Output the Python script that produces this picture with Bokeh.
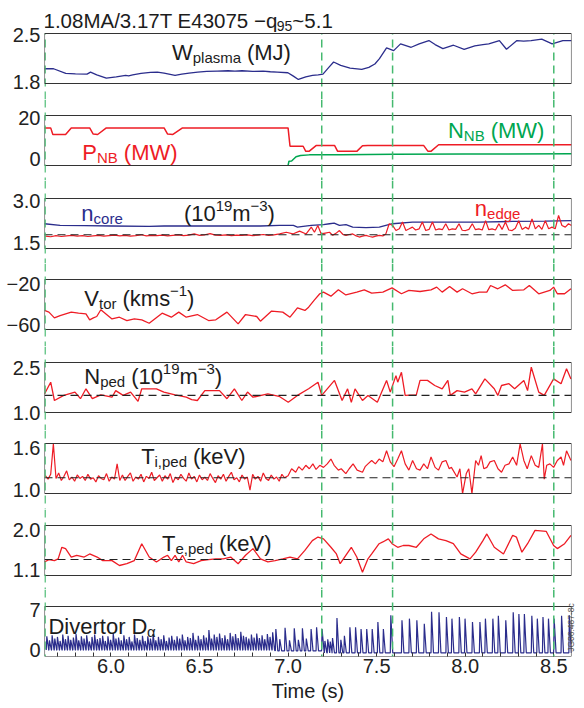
import numpy as np
from bokeh.plotting import figure
from bokeh.models import (Range1d, BoxAnnotation, Span, Label, FixedTicker, LinearAxis,
                          CustomJSTickFormatter)
from bokeh.layouts import column
from bokeh.embed import file_html
from bokeh.resources import INLINE

# ------------------------------------------------------------------ data
W_PLASMA = [(5.626,1.99),(5.676,1.99),(5.745,1.92),(5.80,1.915),(5.865,1.91),(5.885,1.94),
            (5.92,1.90),(5.974,1.85),(6.03,1.87),(6.083,1.89),(6.10,1.885),(6.123,1.90),
            (6.17,1.92),(6.223,1.935),(6.262,1.94),(6.30,1.925),(6.362,1.89),(6.40,1.91),
            (6.441,1.925),(6.49,1.94),(6.541,1.95),(6.60,1.955),(6.661,1.96),(6.70,1.955),
            (6.740,1.96),(6.80,1.95),(6.859,1.955),(6.90,1.945),(6.939,1.94),(6.999,1.93),
            (7.03,1.88),(7.058,1.83),(7.10,1.87),(7.138,1.89),(7.17,1.90),(7.197,1.91),
            (7.23,2.01),(7.257,2.09),(7.297,2.04),(7.35,2.00),(7.416,1.98),(7.456,2.01),
            (7.49,2.06),(7.516,2.14),(7.556,2.30),(7.596,2.26),(7.635,2.36),(7.695,2.31),
            (7.74,2.36),(7.795,2.41),(7.83,2.35),(7.874,2.29),(7.934,2.34),(7.994,2.28),
            (8.054,2.33),(8.10,2.35),(8.133,2.36),(8.193,2.41),(8.233,2.28),(8.292,2.41),
            (8.33,2.40),(8.372,2.41),(8.432,2.43),(8.491,2.36),(8.551,2.41),(8.60,2.41)]

P_NB = [(5.625,15.2),(5.660,15.2),(5.672,12.0),(5.744,12.0),(5.776,15.2),(5.880,15.2),
        (5.900,12.2),(5.925,12.0),(5.974,15.2),(6.300,15.2),(6.320,12.2),(6.350,12.0),
        (6.404,15.2),(7.000,15.2),(7.011,6.3),(7.085,6.3),(7.100,3.8),(7.120,3.9),
        (7.158,6.6),(7.263,6.6),(7.280,3.8),(7.388,3.8),(7.420,6.5),(7.450,6.7),
        (7.765,6.7),(7.790,3.8),(7.808,3.9),(7.850,7.0),(8.600,7.0)]

N_NB = [(7.000,-3.0),(7.005,-1.0),(7.020,-0.9),(7.045,1.2),(7.070,1.8),(7.120,2.1),
        (7.300,2.2),(7.600,2.4),(8.000,2.5),(8.600,2.6)]

N_CORE = [(5.625,2.18),(5.713,2.12),(5.85,2.11),(6.006,2.10),(6.216,2.09),(6.30,2.10),
          (6.425,2.10),(6.634,2.10),(6.844,2.10),(6.952,2.12),(7.03,2.12),(7.053,2.06),
          (7.085,2.09),(7.131,2.12),(7.20,2.15),(7.234,2.18),(7.26,2.20),(7.290,2.12),
          (7.327,2.15),(7.365,2.06),(7.44,2.04),(7.515,2.06),(7.552,2.12),(7.590,2.18),
          (7.702,2.24),(7.890,2.24),(8.077,2.24),(8.265,2.26),(8.452,2.27),(8.600,2.29)]

N_EDGE = [(5.63,1.74),(5.66,1.72),(5.69,1.76),(5.72,1.73),(5.75,1.75),(5.78,1.77),(5.81,1.74),
          (5.84,1.76),(5.87,1.73),(5.90,1.75),(5.93,1.77),(5.96,1.74),(5.99,1.76),(6.02,1.78),
          (6.05,1.75),(6.08,1.77),(6.11,1.74),(6.14,1.76),(6.17,1.79),(6.20,1.75),(6.23,1.77),
          (6.26,1.76),(6.29,1.78),(6.32,1.75),(6.35,1.77),(6.38,1.79),(6.41,1.76),(6.44,1.78),
          (6.47,1.82),(6.50,1.77),(6.53,1.79),(6.56,1.83),(6.59,1.78),(6.62,1.77),(6.65,1.79),
          (6.68,1.76),(6.71,1.78),(6.74,1.77),(6.77,1.79),(6.80,1.76),(6.83,1.78),(6.86,1.80),
          (6.89,1.77),(6.92,1.79),
          (6.952,1.82),(6.990,1.88),(7.027,1.82),(7.065,1.92),(7.102,1.82),(7.131,2.06),
          (7.149,1.88),(7.168,2.12),(7.187,1.82),(7.210,1.85),(7.234,1.88),(7.252,1.77),
          (7.270,1.84),(7.290,1.94),(7.310,1.80),(7.327,1.77),(7.345,1.80),(7.365,1.82),
          (7.385,1.75),(7.402,1.71),(7.420,1.74),(7.440,1.77),(7.460,1.73),(7.477,1.71),
          (7.495,1.74),(7.515,1.77),(7.535,1.75),(7.552,1.82),(7.571,2.18),(7.590,2.12),
          (7.609,1.94),(7.628,2.00),(7.646,2.24),(7.665,1.94),(7.684,2.00),(7.702,2.06),
          (7.720,1.96),(7.740,2.00),(7.758,2.24),(7.777,1.94),(7.796,1.98),(7.815,2.24),
          (7.833,1.96),(7.852,2.00),(7.871,1.97),(7.890,2.18),(7.908,1.96),(7.927,2.00),
          (7.946,1.98),(7.965,2.18),(7.983,1.95),(8.002,1.94),(8.021,1.98),(8.040,2.18),
          (8.058,1.97),(8.077,2.00),(8.096,1.96),(8.115,2.29),(8.133,1.97),(8.152,2.00),
          (8.171,1.96),(8.190,2.18),(8.208,1.98),(8.227,2.24),(8.246,1.96),(8.265,1.94),
          (8.283,2.02),(8.302,2.29),(8.321,1.98),(8.340,2.06),(8.358,1.99),(8.377,2.35),
          (8.396,2.00),(8.415,2.12),(8.433,1.98),(8.452,2.29),(8.471,2.00),(8.490,2.06),
          (8.508,2.00),(8.527,2.47),(8.546,2.12),(8.565,2.06),(8.583,2.18),(8.600,2.12)]

V_TOR = [(5.625,-46.0),(5.650,-47.6),(5.681,-53.1),(5.713,-50.9),(5.776,-47.6),(5.817,-48.6),
         (5.859,-49.2),(5.880,-55.0),(5.901,-53.1),(5.920,-51.8),(5.943,-45.3),(6.006,-54.1),
         (6.048,-52.5),(6.090,-55.7),(6.132,-54.1),(6.174,-55.0),(6.216,-58.3),(6.289,-48.6),
         (6.341,-52.5),(6.383,-47.6),(6.425,-52.5),(6.488,-49.9),(6.551,-55.7),(6.592,-55.0),
         (6.655,-47.6),(6.718,-58.9),(6.760,-49.9),(6.823,-51.8),(6.844,-56.3),(6.907,-46.6),
         (6.970,-47.6),(7.011,-52.5),(7.053,-43.4),(7.095,-46.0),(7.116,-42.8),(7.148,-36.0),
         (7.179,-29.9),(7.200,-28.3),(7.242,-32.2),(7.284,-26.1),(7.326,-31.0),(7.388,-28.3),
         (7.430,-26.1),(7.472,-29.3),(7.535,-28.3),(7.587,-24.2),(7.640,-29.9),(7.682,-26.7),
         (7.745,-27.7),(7.807,-26.1),(7.839,-23.5),(7.870,-28.3),(7.912,-22.9),(7.954,-28.3),
         (7.985,-25.1),(8.038,-29.9),(8.080,-28.3),(8.122,-28.3),(8.143,-21.9),(8.184,-25.1),
         (8.226,-21.3),(8.268,-26.7),(8.331,-26.1),(8.362,-21.9),(8.415,-29.9),(8.478,-26.7),
         (8.499,-23.5),(8.520,-29.9),(8.561,-29.9),(8.597,-25.1)]

N_PED = [(5.625,1.62),(5.660,2.01),(5.681,1.40),(5.734,1.57),(5.797,1.68),(5.828,1.46),
         (5.859,1.79),(5.895,1.46),(5.943,1.59),(6.006,1.51),(6.027,1.73),(6.069,1.57),
         (6.111,1.68),(6.153,1.37),(6.174,1.79),(6.257,1.79),(6.299,1.68),(6.362,1.59),
         (6.425,1.51),(6.456,1.43),(6.488,1.40),(6.530,1.73),(6.613,1.73),(6.655,1.46),
         (6.697,1.79),(6.739,1.40),(6.771,1.68),(6.802,1.51),(6.886,1.62),(6.949,1.54),
         (7.001,1.34),(7.053,1.57),(7.116,1.79),(7.169,2.01),(7.190,1.57),(7.262,2.07),
         (7.305,1.40),(7.336,1.79),(7.357,1.34),(7.378,1.79),(7.420,1.40),(7.451,1.57),
         (7.504,1.34),(7.556,2.07),(7.577,1.68),(7.609,2.23),(7.619,2.01),(7.640,2.34),
         (7.661,1.57),(7.724,1.59),(7.745,2.07),(7.787,2.07),(7.828,1.90),(7.870,1.79),
         (7.902,2.07),(7.916,1.57),(7.954,1.73),(7.996,1.68),(8.038,1.79),(8.059,1.62),
         (8.111,2.12),(8.164,1.79),(8.184,1.57),(8.205,1.90),(8.247,1.96),(8.279,1.79),
         (8.331,2.07),(8.352,1.73),(8.373,2.51),(8.415,1.68),(8.446,1.57),(8.499,2.12),
         (8.541,1.96),(8.572,2.46),(8.597,2.12)]

TI_PED = [(5.630,1.20),(5.645,1.15),(5.660,1.22),(5.675,1.66),(5.690,1.16),(5.705,1.24),
          (5.720,1.13),(5.735,1.19),(5.750,1.27),(5.765,1.14),(5.780,1.18),(5.795,1.12),
          (5.810,1.21),(5.825,1.16),(5.840,1.19),(5.855,1.13),(5.870,1.22),(5.885,1.15),
          (5.900,1.17),(5.915,1.11),(5.930,1.20),(5.945,1.16),(5.960,1.14),(5.975,1.23),
          (5.990,1.12),(6.005,1.18),(6.020,1.15),(6.035,1.37),(6.050,1.13),(6.065,1.21),
          (6.080,1.13),(6.095,1.19),(6.110,1.24),(6.125,1.12),(6.140,1.18),(6.155,1.15),
          (6.170,1.22),(6.185,1.11),(6.200,1.19),(6.215,1.16),(6.230,1.25),(6.245,1.13),
          (6.260,1.17),(6.275,1.21),(6.290,1.12),(6.305,1.20),(6.320,1.15),(6.335,1.23),
          (6.350,1.10),(6.365,1.18),(6.380,1.14),(6.395,1.22),(6.410,1.16),(6.425,1.12),
          (6.440,1.24),(6.455,1.15),(6.470,1.19),(6.485,1.11),(6.500,1.21),(6.515,1.14),
          (6.530,1.18),(6.545,1.13),(6.560,1.23),(6.575,1.16),(6.590,1.10),(6.605,1.20),
          (6.620,1.15),(6.635,1.22),(6.650,1.12),(6.665,1.19),(6.680,1.25),(6.695,1.14),
          (6.710,1.17),(6.725,1.11),(6.740,1.21),(6.755,1.15),(6.770,1.18),(6.785,0.99),
          (6.800,1.22),(6.815,1.15),(6.830,1.19),(6.845,1.12),(6.860,1.24),(6.875,1.16),
          (6.890,1.13),(6.905,1.21),(6.920,1.15),(6.935,1.18),(6.950,1.12),(6.965,1.22),
          (6.980,1.17),
          (7.000,1.20),(7.020,1.30),(7.043,1.25),(7.060,1.33),(7.080,1.28),(7.100,1.35),
          (7.120,1.30),(7.140,1.37),(7.158,1.29),(7.179,1.35),(7.200,1.32),(7.221,1.37),
          (7.242,1.44),(7.260,1.35),(7.284,1.28),(7.300,1.30),(7.326,1.23),(7.345,1.30),
          (7.367,1.37),(7.390,1.28),(7.420,1.25),(7.435,1.33),(7.451,1.37),(7.472,1.42),
          (7.493,1.37),(7.514,1.44),(7.535,1.40),(7.556,1.56),(7.577,1.40),(7.598,1.33),
          (7.619,1.44),(7.640,1.56),(7.661,1.37),(7.682,1.28),(7.703,1.42),(7.725,1.30),
          (7.745,1.28),(7.766,1.37),(7.787,1.30),(7.807,1.47),(7.830,1.32),(7.849,1.28),
          (7.870,1.40),(7.891,1.42),(7.910,1.30),(7.922,1.32),(7.954,1.18),(7.970,1.30),
          (7.985,0.94),(8.006,1.23),(8.020,1.30),(8.038,0.94),(8.059,1.42),(8.075,1.35),
          (8.090,1.49),(8.105,1.30),(8.122,1.32),(8.140,1.40),(8.164,1.42),(8.185,1.30),
          (8.205,1.25),(8.225,1.35),(8.247,1.37),(8.268,1.47),(8.290,1.35),(8.310,1.66),
          (8.331,1.42),(8.350,1.30),(8.373,1.49),(8.395,1.35),(8.415,1.32),(8.436,1.66),
          (8.446,1.15),(8.460,1.35),(8.478,1.37),(8.499,1.32),(8.520,1.42),(8.541,1.47),
          (8.555,1.35),(8.572,1.56),(8.597,1.42)]

TE_PED = [(5.625,1.27),(5.650,1.32),(5.681,1.30),(5.702,1.34),(5.723,1.60),(5.744,1.57),
          (5.776,1.38),(5.807,1.42),(5.849,1.38),(5.880,1.45),(5.922,1.38),(5.954,1.30),
          (6.006,1.30),(6.048,1.19),(6.090,1.23),(6.132,1.30),(6.174,1.68),(6.216,1.38),
          (6.257,1.27),(6.299,1.38),(6.320,1.42),(6.341,1.30),(6.362,1.42),(6.383,1.27),
          (6.404,1.42),(6.425,1.27),(6.467,1.23),(6.509,1.30),(6.551,1.32),(6.592,1.34),
          (6.634,1.34),(6.676,1.38),(6.718,1.23),(6.760,1.42),(6.802,1.57),(6.844,1.34),
          (6.886,1.27),(6.927,1.30),(6.970,1.34),(7.011,1.38),(7.053,1.34),(7.095,1.53),
          (7.137,1.75),(7.169,1.83),(7.200,1.79),(7.242,1.60),(7.273,1.45),(7.294,1.23),
          (7.326,1.42),(7.357,1.60),(7.388,1.38),(7.420,1.04),(7.451,1.34),(7.472,1.45),
          (7.514,1.68),(7.535,1.72),(7.566,1.79),(7.587,1.68),(7.619,1.60),(7.650,1.64),
          (7.682,1.64),(7.724,1.60),(7.766,1.79),(7.807,1.90),(7.849,1.79),(7.891,1.75),
          (7.933,1.68),(7.975,1.45),(8.027,1.34),(8.059,1.49),(8.100,1.75),(8.122,1.90),
          (8.164,1.60),(8.216,1.45),(8.268,1.87),(8.289,1.83),(8.320,1.49),(8.352,1.68),
          (8.394,1.98),(8.457,1.96),(8.499,1.64),(8.520,1.57),(8.561,1.68),(8.597,1.87)]

# Divertor D-alpha: ELM spikes (time, peak) in three phases, each with its baseline
DA_DENSE = [(5.635,2.3),(5.650,1.6),(5.665,2.5),(5.680,1.9),(5.695,2.2),(5.710,1.5),(5.725,2.6),
            (5.740,1.8),(5.755,2.4),(5.770,1.7),(5.785,2.1),(5.800,2.7),(5.815,1.6),(5.830,2.3),
            (5.845,1.9),(5.860,2.5),(5.875,1.4),(5.890,2.2),(5.905,2.6),(5.920,1.8),(5.935,2.0),
            (5.950,2.4),(5.965,1.5),(5.980,2.3),(5.995,1.7),(6.010,2.8),(6.025,1.9),(6.040,2.1),
            (6.055,1.6),(6.070,2.5),(6.085,1.8),(6.100,2.2),(6.115,1.4),(6.130,2.6),(6.145,2.0),
            (6.160,1.7),(6.175,2.4),(6.190,1.5),(6.205,2.3),(6.220,1.9),(6.235,2.7),(6.250,1.6),
            (6.265,2.2),(6.280,1.8),(6.295,2.5),(6.310,1.5),(6.325,2.1),(6.340,2.4),(6.355,1.7),
            (6.370,2.3),(6.385,1.9),(6.400,2.6),(6.415,1.6),(6.430,2.2),(6.445,2.0),(6.460,2.9),
            (6.475,1.7),(6.490,2.4),(6.505,1.8),(6.520,2.5),(6.535,2.1),(6.550,3.4),(6.565,1.9),
            (6.580,2.6),(6.595,2.2),(6.610,2.8),(6.625,2.0),(6.640,2.5),(6.655,1.8),(6.670,2.9),
            (6.685,2.3),(6.700,2.7),(6.715,2.0),(6.730,3.1),(6.745,2.4),(6.760,2.2),(6.775,1.9),
            (6.790,2.6),(6.805,2.1),(6.820,2.8),(6.835,2.0),(6.850,2.5),(6.865,1.8),(6.880,2.7),
            (6.895,2.2),(6.910,3.0)]
DA_DENSE_BASE = -0.1
DA_MID = [(6.928,3.6),(6.950,1.8),(6.980,3.8),(7.005,1.6),(7.032,3.7),(7.055,1.7),(7.078,3.7),
          (7.100,1.9),(7.127,3.6),(7.158,3.9),(7.189,3.6)]
DA_MID_BASE = -0.25
DA_LATE = [(7.205,1.5),(7.221,1.8),(7.235,1.4),(7.248,2.0),(7.273,5.5),(7.295,1.7),(7.315,2.4),
           (7.346,3.9),(7.378,3.9),(7.409,3.6),(7.441,3.6),(7.472,3.6),(7.504,4.8),(7.535,3.6),
           (7.577,6.0),(7.640,5.1),(7.682,5.4),(7.724,5.1),(7.766,4.5),(7.807,6.6),(7.849,6.5),
           (7.891,5.7),(7.922,5.4),(7.964,5.7),(7.996,5.4),(8.038,4.8),(8.080,4.8),(8.111,5.4),
           (8.153,5.4),(8.184,5.9),(8.226,5.1),(8.268,6.5),(8.300,6.2),(8.331,6.2),(8.373,5.9),
           (8.404,5.4),(8.436,5.7),(8.467,5.4),(8.499,5.4),(8.541,5.9),(8.585,6.0)]
DA_LATE_BASE = -0.6

EVENT_TIMES = [5.628, 7.19, 7.59, 8.50]            # green dashed markers
REF_LEVELS = {2: 1.79, 4: 1.57, 5: 1.17, 6: 1.325}  # black dashed reference levels
X_TICKS = [6.0, 6.5, 7.0, 7.5, 8.0, 8.5]
X_MINOR = [5.7, 5.8, 5.9, 6.1, 6.2, 6.3, 6.4, 6.6, 6.7, 6.8, 6.9, 7.1, 7.2, 7.3, 7.4,
           7.6, 7.7, 7.8, 7.9, 8.1, 8.2, 8.3, 8.4]
Y_TICKS = [(1.8, 2.5), (0, 20), (1.5, 3.0), (-60, -20), (1.0, 2.5), (1.0, 1.6), (1.1, 2.0), (0, 7)]
Y_DECIMALS = [1, 0, 1, 0, 1, 1, 1, 0]

# ------------------------------------------------------------------ layout (page px)
X0, X1 = 5.625, 8.600
PX_L, PX_R = 44.0, 573.0
# (y px of bottom tick, y px of top tick, box top, box bottom)
GEOM = [(81.0, 34.0, 33, 83), (158.7, 117.5, 115, 165), (242.5, 200.0, 198, 248),
        (324.5, 283.0, 279, 329), (412.0, 367.0, 362, 412), (489.0, 447.5, 443, 493),
        (569.0, 529.0, 525, 575), (649.0, 609.0, 606, 656)]
# figure frames (top, bottom) - split in the middle of the gaps between boxes
FRAMES = [(0, 99), (99, 180), (180, 263), (263, 346), (346, 430), (430, 509), (509, 589), (589, 656)]
BOTTOM_BORDER = 52
TEXT_DY = -5   # rendering offset of label baselines

FONT = "Liberation Sans"
NAVY, RED, GREEN, VGREEN, INK = "#2b2d8c", "#ee1c25", "#00a650", "#45b96f", "#1c1c1c"

CW = {' ': 278, '(': 333, ')': 333, '-': 333, '\u2212': 584, '.': 278, '/': 278, ',': 278,
      '~': 584, 'A': 667, 'B': 667, 'D': 722, 'E': 667, 'J': 500, 'M': 833, 'N': 722,
      'P': 667, 'T': 611, 'V': 667, 'W': 944, 'a': 556, 'c': 500, 'd': 556, 'e': 556,
      'g': 556, 'i': 222, 'k': 500, 'l': 222, 'm': 833, 'n': 556, 'o': 556, 'p': 556,
      'q': 556, 'r': 333, 's': 500, 't': 278, 'v': 500, '\u03b1': 570}
for d in "0123456789":
    CW[d] = 556


def xd(px):
    return X0 + (px - PX_L) * (X1 - X0) / (PX_R - PX_L)


def yd(k, py):
    vb, vt = Y_TICKS[k]
    yb, yt = GEOM[k][0], GEOM[k][1]
    return vb + (yb - py) * (vt - vb) / (yb - yt)


def tw(s, size):
    return sum(CW.get(c, 556) for c in s) * size / 1000.0


def rich(fig, k, px, py, parts, color, size=22, small=15):
    x = px
    py = py + TEXT_DY
    for txt, kind in parts:
        fs, dy = (size, 0) if kind == "n" else ((small, 5) if kind == "sub" else (small, -8))
        lead = len(txt) - len(txt.lstrip(" "))
        x += tw(" " * lead, fs)
        body = txt.strip(" ")
        fig.add_layout(Label(x=xd(x), y=yd(k, py + dy), text=body, text_font=FONT,
                             text_font_size=f"{fs}px", text_color=color,
                             text_baseline="alphabetic", text_align="left"))
        x += tw(body, fs)


def elm(spikes, base, rise=0.003, decay=0.011):
    xs, ys = [], []
    for t, pk in spikes:
        xs += [t, t + rise, t + rise + decay]
        ys += [base, pk, base]
    return xs, ys


def fixed_fmt(dec, unicode_minus=False):
    if unicode_minus:
        return CustomJSTickFormatter(
            code=f"return (tick < 0 ? '\\u2212' : '') + Math.abs(tick).toFixed({dec});")
    return CustomJSTickFormatter(code=f"return tick.toFixed({dec});")


xr = Range1d(X0, X1)
figs = []
for k in range(8):
    ftop, fbot = FRAMES[k]
    bot_border = BOTTOM_BORDER if k == 7 else 0
    h = (fbot - ftop) + bot_border
    f = figure(width=584, height=h, x_range=xr, y_range=Range1d(yd(k, fbot), yd(k, ftop)),
               output_backend="svg", toolbar_location=None,
               x_axis_location="below" if k == 7 else None, y_axis_location="left",
               min_border_left=44, min_border_right=11, min_border_top=0,
               min_border_bottom=bot_border)
    f.outline_line_color = None
    f.grid.visible = False
    f.background_fill_color = "white"
    f.border_fill_color = "white"
    ax = f.yaxis[0]
    ax.ticker = FixedTicker(ticks=list(Y_TICKS[k]))
    ax.formatter = fixed_fmt(Y_DECIMALS[k], unicode_minus=True)
    ax.axis_line_color = None
    ax.major_tick_in = 0
    ax.major_tick_out = 0
    ax.minor_tick_in = 0
    ax.minor_tick_out = 0
    ax.major_tick_line_color = None
    ax.minor_tick_line_color = None
    ax.major_label_standoff = 4
    ax.major_label_text_font = FONT
    ax.major_label_text_font_size = "20px"
    ax.major_label_text_color = "#222222"
    figs.append(f)

# ---- data lines
def line(f, pairs, color, w=1.3):
    t, v = zip(*pairs)
    f.line(list(t), list(v), line_color=color, line_width=w)

line(figs[0], W_PLASMA, NAVY)
line(figs[1], P_NB, RED, 1.5)
line(figs[1], N_NB, GREEN, 1.5)
line(figs[2], N_CORE, NAVY)
line(figs[2], N_EDGE, RED, 1.2)
line(figs[3], V_TOR, RED)
line(figs[4], N_PED, RED)
line(figs[5], TI_PED, RED, 1.2)
line(figs[6], TE_PED, RED)
dx, dy = [], []
for spikes, base in ((DA_DENSE, DA_DENSE_BASE), (DA_MID, DA_MID_BASE), (DA_LATE, DA_LATE_BASE)):
    a, b = elm(spikes, base)
    dx += a
    dy += b
figs[7].line(dx, dy, line_color=NAVY, line_width=1.2)

# ---- boxes, reference levels, event markers
for k, f in enumerate(figs):
    yb, yt, btop, bbot = GEOM[k]
    ftop, fbot = FRAMES[k]
    f.add_layout(BoxAnnotation(left=X0, right=X1, bottom=yd(k, bbot), top=yd(k, btop),
                               fill_alpha=0, line_color="#333333", line_alpha=1.0,
                               line_width=1.1))
    if k in REF_LEVELS:
        f.add_layout(Span(location=REF_LEVELS[k], dimension="width", line_color="#222222",
                          line_dash="8 5", line_width=1.1))
    if k == 0:
        # markers start at the top edge of the first box (title sits above it)
        n = len(EVENT_TIMES)
        f.segment(x0=EVENT_TIMES, x1=EVENT_TIMES, y0=[yd(0, fbot)] * n,
                  y1=[yd(0, btop)] * n, line_color=VGREEN, line_dash="8 5", line_width=1.5)
    else:
        for t in EVENT_TIMES:
            f.add_layout(Span(location=t, dimension="height", line_color=VGREEN,
                              line_dash="8 5", line_width=1.5))

# ---- x axis on bottom panel
bx = figs[7].xaxis[0]
bx.ticker = FixedTicker(ticks=X_TICKS, minor_ticks=X_MINOR)
bx.formatter = fixed_fmt(1)
bx.axis_line_color = None
bx.major_tick_in = 4
bx.major_tick_out = 0
bx.minor_tick_in = 4
bx.minor_tick_out = 0
bx.major_tick_line_color = "#333333"
bx.minor_tick_line_color = "#333333"
bx.major_label_standoff = 2
bx.major_label_text_font = FONT
bx.major_label_text_font_size = "20px"
bx.major_label_text_color = "#222222"
bx.axis_label = "Time (s)"
bx.axis_label_standoff = 4
bx.axis_label_text_font = FONT
bx.axis_label_text_font_size = "20px"
bx.axis_label_text_font_style = "normal"
bx.axis_label_text_color = INK

# figure code on the right side of the bottom panel, reading bottom to top
rax = LinearAxis(ticker=FixedTicker(ticks=[yd(7, 624)]),
                 formatter=CustomJSTickFormatter(code="return 'JG06.487-8c';"),
                 major_label_orientation=np.pi / 2, major_label_standoff=0,
                 major_label_text_font=FONT, major_label_text_font_size="8.5px",
                 major_label_text_color="#555555", axis_line_color=None,
                 major_tick_in=0, major_tick_out=0, minor_tick_in=0, minor_tick_out=0,
                 major_tick_line_color=None, minor_tick_line_color=None)
figs[7].add_layout(rax, "right")

# ---- texts
rich(figs[0], 0, 43, 25, [("1.08MA/3.17T E43075 \u2212q", "n"), ("95", "sub"), ("~5.1", "n")],
     INK, size=20.5, small=14)
rich(figs[0], 0, 172, 57, [("W", "n"), ("plasma", "sub"), (" (MJ)", "n")], INK)
rich(figs[1], 1, 82, 157, [("P", "n"), ("NB", "sub"), (" (MW)", "n")], RED)
rich(figs[1], 1, 449, 135, [("N", "n"), ("NB", "sub"), (" (MW)", "n")], GREEN)
rich(figs[2], 2, 81, 218, [("n", "n"), ("core", "sub")], NAVY)
rich(figs[2], 2, 184, 218, [("(10", "n"), ("19", "sup"), ("m", "n"), ("\u22123", "sup"), (")", "n")], INK)
rich(figs[2], 2, 476, 213, [("n", "n"), ("edge", "sub")], RED)
rich(figs[3], 3, 84, 303, [("V", "n"), ("tor", "sub"), (" (kms", "n"), ("\u22121", "sup"), (")", "n")], INK)
rich(figs[4], 4, 84, 381, [("N", "n"), ("ped", "sub"), (" (10", "n"), ("19", "sup"), ("m", "n"),
                           ("\u22123", "sup"), (")", "n")], INK)
rich(figs[5], 5, 141, 461, [("T", "n"), ("i,ped", "sub"), (" (keV)", "n")], INK)
rich(figs[6], 6, 162, 548, [("T", "n"), ("e,ped", "sub"), (" (keV)", "n")], INK)
rich(figs[7], 7, 48, 631, [("Divertor D", "n"), ("\u03b1", "sub")], INK)

layout = column(*figs, spacing=0)
open("out.html", "w").write(file_html(layout, INLINE))
